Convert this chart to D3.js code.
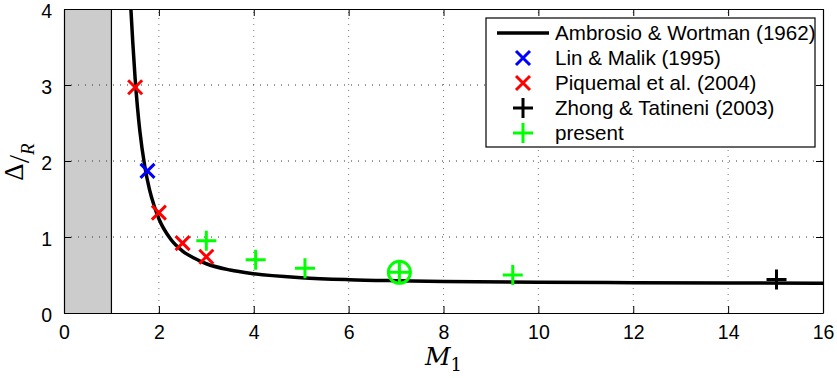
<!DOCTYPE html>
<meta charset="utf-8">
<html>
<head>
<title>shock standoff distance</title>
<style>
    body {
        margin: 0;
        background: #fff;
    }
    text {
        font-family: "Liberation Sans", Arial, sans-serif;
    }
</style>
<script src="https://d3js.org/d3.v7.min.js"></script>
</head>
<body>
<div id="chart"></div>
<script>

// ##### data #####
var xTicks = [0, 2, 4, 6, 8, 10, 12, 14, 16];
var yTicks = [0, 1, 2, 3, 4];

// Ambrosio & Wortman (1962) curve
var curveM     = [1.41, 1.45, 1.5, 1.55, 1.6, 1.7, 1.8, 1.9, 2.0, 2.25, 2.5, 2.75, 3.0, 3.5, 4.0, 5.0, 6.0, 7.0, 8.0, 10.0, 12.0, 14.0, 16.0];
var curveDelta = [4.0, 3.56, 3.08, 2.70, 2.39, 1.94, 1.63, 1.41, 1.24, 0.97, 0.815, 0.72, 0.648, 0.565, 0.517, 0.465, 0.439, 0.425, 0.415, 0.404, 0.399, 0.395, 0.392];

// Lin & Malik (1995)
var linM = [1.76];
var linDelta = [1.87];

// Piquemal et al. (2004)
var piqM = [1.5, 2.0, 2.5, 3.0];
var piqDelta = [2.97, 1.32, 0.92, 0.74];

// Zhong & Tatineni (2003)
var zhongM = [15.02];
var zhongDelta = [0.44];

// present
var presM = [3.0, 4.04, 5.08, 7.07, 9.46];
var presDelta = [0.95, 0.70, 0.59, 0.535, 0.50];
var presCircled = [7.07];

var legendLabels = ["Ambrosio & Wortman (1962)", "Lin & Malik (1995)", "Piquemal et al. (2004)", "Zhong & Tatineni (2003)", "present"];

// set the dimensions and margins of the graph
var margin = {top: 9, right: 14, bottom: 65, left: 64},
    width = 837 - margin.left - margin.right,
    height = 378 - margin.top - margin.bottom;

var x = d3.scaleLinear().domain([0, 16]).range([0, width]);
var y = d3.scaleLinear().domain([0, 4]).range([height, 0]);

var svg = d3.select("#chart")
  .append("svg")
    .attr("width", 837)
    .attr("height", 378)
  .append("g")
    .attr("transform", "translate(" + margin.left + "," + margin.top + ")");

// gray region M < 1
svg.append("rect")
    .attr("x", x(0))
    .attr("y", y(4))
    .attr("width", x(1) - x(0))
    .attr("height", y(0) - y(4))
    .attr("fill", "#cccccc");
svg.append("line")
    .attr("x1", x(1)).attr("x2", x(1))
    .attr("y1", y(0)).attr("y2", y(4))
    .attr("stroke", "#000").attr("stroke-width", 1.2);

// grid
svg.append("g").selectAll("line")
    .data(xTicks.slice(1, -1))
  .enter().append("line")
    .attr("x1", function(d) { return x(d); })
    .attr("x2", function(d) { return x(d); })
    .attr("y1", y(0)).attr("y2", y(4))
    .attr("stroke", "#777")
    .attr("stroke-width", 1)
    .attr("stroke-dasharray", "1,5");
svg.append("g").selectAll("line")
    .data(yTicks.slice(1, -1))
  .enter().append("line")
    .attr("x1", x(0)).attr("x2", x(16))
    .attr("y1", function(d) { return y(d); })
    .attr("y2", function(d) { return y(d); })
    .attr("stroke", "#333")
    .attr("stroke-width", 1)
    .attr("stroke-dasharray", "1,6");

// axes (ticks inward, matlab style)
var fmt = d3.format("d");
var xAxis = svg.append("g")
    .attr("transform", "translate(0," + height + ")")
    .call(d3.axisBottom(x).tickValues(xTicks).tickFormat(fmt).tickSize(-7).tickPadding(12).tickSizeOuter(0));
var xTop = svg.append("g")
    .call(d3.axisTop(x).tickValues(xTicks).tickSize(-7).tickFormat("").tickSizeOuter(0));
var yAxis = svg.append("g")
    .call(d3.axisLeft(y).tickValues(yTicks).tickFormat(fmt).tickSize(-7).tickPadding(12).tickSizeOuter(0));
var yRight = svg.append("g")
    .attr("transform", "translate(" + width + ",0)")
    .call(d3.axisRight(y).tickValues(yTicks).tickSize(-7).tickFormat("").tickSizeOuter(0));

[xAxis, xTop, yAxis, yRight].forEach(function(a) {
  a.selectAll("path").attr("stroke", "#000").attr("stroke-width", 1.2);
  a.selectAll("line").attr("stroke", "#000").attr("stroke-width", 1);
  a.selectAll("text")
      .style("font-family", "'Liberation Sans', Arial, sans-serif")
      .style("font-size", "19.5px")
      .attr("fill", "#000");
});
yAxis.selectAll("text").attr("dy", "0.45em");

// the curve
var curveData = curveM.map(function(m, i) { return {m: m, d: curveDelta[i]}; });
var line = d3.line()
    .x(function(d) { return x(d.m); })
    .y(function(d) { return y(d.d); })
    .curve(d3.curveMonotoneX);
svg.append("path")
    .datum(curveData)
    .attr("fill", "none")
    .attr("stroke", "#000")
    .attr("stroke-width", 3.5)
    .attr("d", line);

// marker helpers
function crossPath(cx, cy, r) {
  return "M" + (cx - r) + "," + (cy - r) + "L" + (cx + r) + "," + (cy + r) +
         "M" + (cx - r) + "," + (cy + r) + "L" + (cx + r) + "," + (cy - r);
}
function plusPath(cx, cy, r) {
  return "M" + (cx - r) + "," + cy + "L" + (cx + r) + "," + cy +
         "M" + cx + "," + (cy - r) + "L" + cx + "," + (cy + r);
}
function addMarkers(ms, ds, shape, color) {
  svg.append("g").selectAll("path")
      .data(ms.map(function(m, i) { return {m: m, d: ds[i]}; }))
    .enter().append("path")
      .attr("d", function(p) {
        return shape == "x" ? crossPath(x(p.m), y(p.d), 7) : plusPath(x(p.m), y(p.d), 10);
      })
      .attr("fill", "none")
      .attr("stroke", color)
      .attr("stroke-width", 3);
}

addMarkers(piqM, piqDelta, "x", "#ff0000");
addMarkers(linM, linDelta, "x", "#0000ff");
addMarkers(zhongM, zhongDelta, "+", "#000000");
addMarkers(presM, presDelta, "+", "#00ff00");

// circled point
svg.append("g").selectAll("circle")
    .data(presCircled)
  .enter().append("circle")
    .attr("cx", function(m) { return x(m); })
    .attr("cy", function(m) { return y(presDelta[presM.indexOf(m)]); })
    .attr("r", 11)
    .attr("fill", "none")
    .attr("stroke", "#00ff00")
    .attr("stroke-width", 3);

// legend
var lg = svg.append("g").attr("transform", "translate(" + (486 - margin.left) + "," + (18 - margin.top) + ")");
lg.append("rect")
    .attr("width", 329).attr("height", 129)
    .attr("fill", "#fff")
    .attr("stroke", "#000").attr("stroke-width", 1.2);

var rowY = function(i) { return 15 + i * 25; };
lg.append("line")
    .attr("x1", 11).attr("x2", 63)
    .attr("y1", rowY(0)).attr("y2", rowY(0))
    .attr("stroke", "#000").attr("stroke-width", 3.5);
var lgMarks = [null, ["x", "#0000ff"], ["x", "#ff0000"], ["+", "#000000"], ["+", "#00ff00"]];
lgMarks.forEach(function(mk, i) {
  if (!mk) return;
  lg.append("path")
      .attr("d", mk[0] == "x" ? crossPath(37, rowY(i), 7) : plusPath(37, rowY(i), 10))
      .attr("fill", "none")
      .attr("stroke", mk[1])
      .attr("stroke-width", 3);
});
lg.selectAll("text.lab")
    .data(legendLabels)
  .enter().append("text")
    .attr("class", "lab")
    .attr("x", 69)
    .attr("y", function(d, i) { return rowY(i); })
    .attr("dy", "0.35em")
    .style("font-size", "20.6px")
    .text(function(d) { return d; });

// x label M_1
var xl = svg.append("text")
    .attr("x", width / 2)
    .attr("y", height + 52)
    .attr("text-anchor", "middle")
    .style("font-family", "'DejaVu Serif', 'Liberation Serif', serif")
    .style("font-size", "25px");
xl.append("tspan").style("font-style", "italic").text("M");
xl.append("tspan").attr("dy", 6).style("font-size", "18px").text("1");

// y label Delta / R
var yl = svg.append("text")
    .attr("transform", "translate(" + (27 - margin.left) + "," + (162 - margin.top) + ") rotate(-90)")
    .attr("text-anchor", "middle")
    .style("font-family", "'Liberation Serif', 'DejaVu Serif', serif")
    .style("font-size", "27px");
yl.append("tspan").attr("dy", -4).text("\u0394");
yl.append("tspan").attr("dy", 6).style("font-size", "30px").text("/");
yl.append("tspan").attr("dy", 5).style("font-style", "italic").style("font-size", "19px").text("R");

</script>
</body>
</html>
